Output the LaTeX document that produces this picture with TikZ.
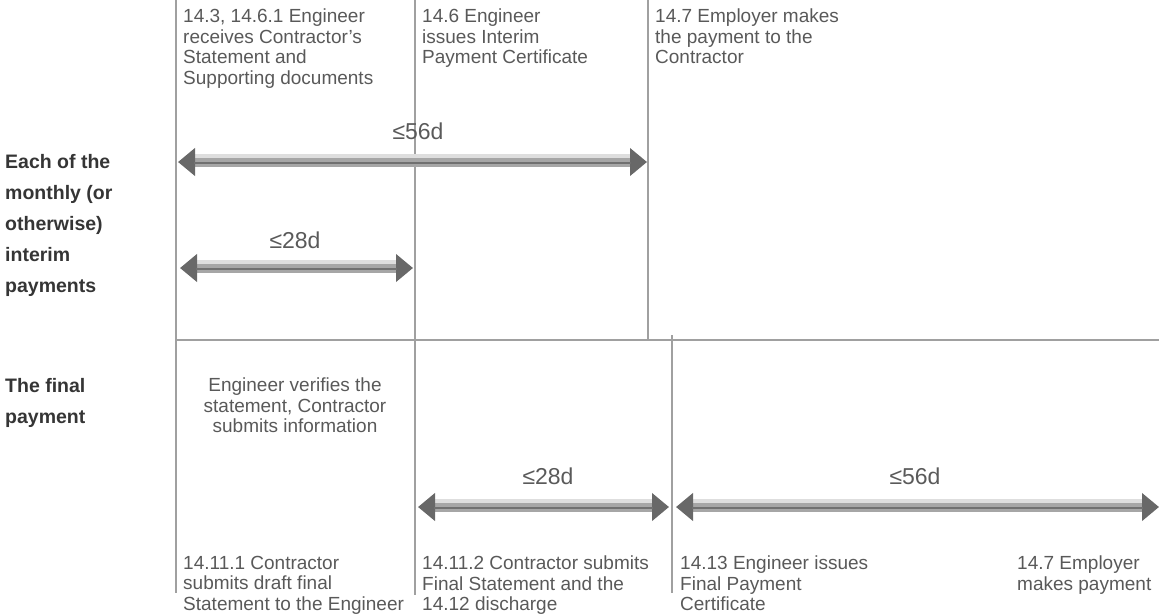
\documentclass[tikz,border=0pt]{standalone}
\usepackage{fontspec}
\setmainfont{Liberation Sans}
\usetikzlibrary{arrows.meta}
\definecolor{txtgray}{HTML}{595959}
\definecolor{headgray}{HTML}{353535}
\definecolor{rulegray}{HTML}{A0A0A0}
\definecolor{shaftgray}{HTML}{A6A6A6}
\definecolor{coregray}{HTML}{707070}
\definecolor{tipgray}{HTML}{686868}
\definecolor{halogray}{HTML}{DEDEDE}
\definecolor{spangray}{HTML}{5A5A5A}
\begin{document}
\begin{tikzpicture}[x=1pt,y=-1pt,
  rule/.style={draw=rulegray,line width=1.3pt},
  desc/.style={font=\fontsize{19}{20.5}\selectfont,text=txtgray,align=left,anchor=north west,inner sep=0pt},
  rowhead/.style={font=\bfseries\fontsize{19.5}{31}\selectfont,text=headgray,align=left,anchor=north west,inner sep=0pt},
  spanlabel/.style={font=\fontsize{23}{25}\selectfont,text=spangray,inner sep=0pt},
  halo/.style={draw=halogray,line width=12pt,shorten <=14pt,shorten >=14pt},
  shaft/.style={draw=shaftgray,line width=9pt,
    {Triangle[length=17pt,width=27pt,color=tipgray,fill=tipgray]}-{Triangle[length=17pt,width=27pt,color=tipgray,fill=tipgray]}},
  core/.style={draw=coregray,line width=2.4pt,shorten <=16pt,shorten >=16pt},
]
\useasboundingbox (0,0) rectangle (1159,613);

% vertical and horizontal rules
\coordinate (a0) at (176,0);   \coordinate (a1) at (176,593);
\coordinate (b0) at (415,0);   \coordinate (b1) at (415,595);
\coordinate (c0) at (648,0);   \coordinate (c1) at (648,341);
\coordinate (d0) at (672,335); \coordinate (d1) at (672,593);
\coordinate (h0) at (177,340); \coordinate (h1) at (1159,340);
\draw[rule] (a0) -- (a1);
\draw[rule] (b0) -- (b1);
\draw[rule] (c0) -- (c1);
\draw[rule] (d0) -- (d1);
\draw[rule] (h0) -- (h1);

% row headings
\node[rowhead] (rowA) at (5,154) {Each of the\\monthly (or\\otherwise)\\interim\\payments};
\node[rowhead] (rowB) at (5,378) {The final\\payment};

% event descriptions, top row
\node[desc] (e1) at (183,9) {14.3, 14.6.1 Engineer\\receives Contractor’s\\Statement and\\Supporting documents};
\node[desc] (e2) at (422,9) {14.6 Engineer\\issues Interim\\Payment Certificate};
\node[desc] (e3) at (655,9) {14.7 Employer makes\\the payment to the\\Contractor};

% verification note
\node[desc,anchor=north,align=center] (note) at (295,378) {Engineer verifies the\\statement, Contractor\\submits information};

% event descriptions, bottom row
\node[desc] (f1) at (183,556) {14.11.1 Contractor\\submits draft final\\Statement to the Engineer};
\node[desc] (f2) at (422,556) {14.11.2 Contractor submits\\Final Statement and the\\14.12 discharge};
\node[desc] (f3) at (680,556) {14.13 Engineer issues\\Final Payment\\Certificate};
\node[desc] (f4) at (1017,556) {14.7 Employer\\makes payment};

% time-limit arrows
\coordinate (p1) at (178,162); \coordinate (q1) at (647,162);
\coordinate (p2) at (180,268); \coordinate (q2) at (413,268);
\coordinate (p3) at (418,507); \coordinate (q3) at (669,507);
\coordinate (p4) at (676,507); \coordinate (q4) at (1159,507);
\foreach \p/\q in {p1/q1,p2/q2,p3/q3,p4/q4}{
  \draw[halo] ([yshift=2pt]\p) -- ([yshift=2pt]\q);
  \draw[shaft] (\p) -- (\q);
  \draw[core] ([yshift=-1.2pt]\p) -- ([yshift=-1.2pt]\q);
}

% time-limit labels
\node[spanlabel] (s1) at (418,131) {≤56d};
\node[spanlabel] (s2) at (295,240) {≤28d};
\node[spanlabel] (s3) at (548,476) {≤28d};
\node[spanlabel] (s4) at (915,476) {≤56d};
\end{tikzpicture}
\end{document}
